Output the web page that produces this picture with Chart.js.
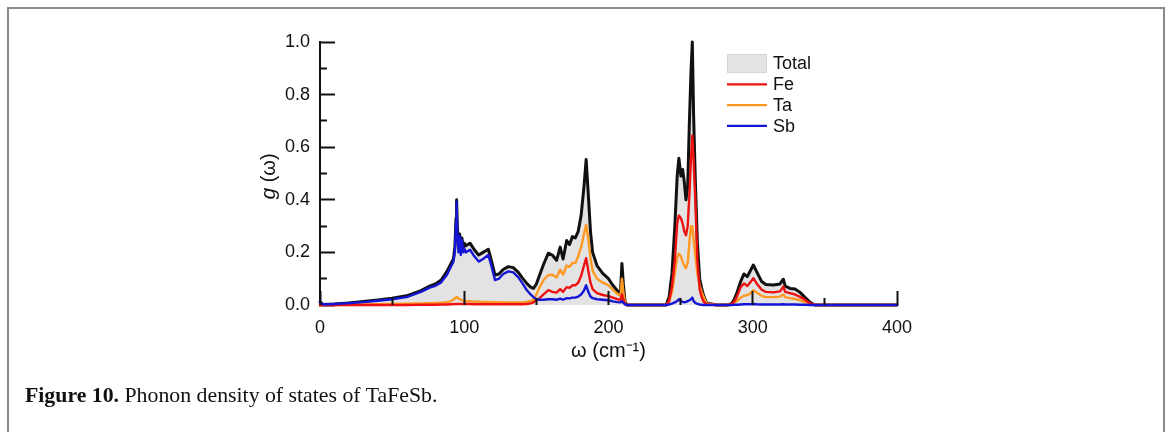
<!DOCTYPE html>
<html>
<head>
<meta charset="utf-8">
<script src="https://cdn.jsdelivr.net/npm/chart.js@4.4.0/dist/chart.umd.min.js"></script>
<style>
  html, body { margin: 0; padding: 0; background: #fff; }
  #wrap { position: relative; width: 1168px; height: 432px; overflow: hidden; }
  #frame { position: absolute; left: 7px; top: 7px; width: 1158px; height: 460px;
           border: 2px solid #8a8a8a; border-bottom: none; box-sizing: border-box; }
  #chart { position: absolute; left: 0; top: 0; }
  #caption { position: absolute; left: 25px; top: 384px; line-height: 22px;
             font-family: "Liberation Serif", "DejaVu Serif", serif; font-size: 21.8px; color: #111; white-space: nowrap; }
</style>
</head>
<body>
<div id="wrap">
  <div id="frame"></div>
  <canvas id="chart" width="1168" height="432"></canvas>
  <div id="caption"><b>Figure 10.</b> Phonon density of states of TaFeSb.</div>
</div>
<script>
// phonon frequency, cm^-1 (shared by all series)
const omega = [
  0, 2, 10, 20, 30, 40, 50, 60, 70, 76,
  80, 84, 88, 91, 92.5, 93.5, 94.3, 94.7, 95.2, 96,
  96.8, 97.6, 98.4, 99.2, 100, 101, 104, 107, 110, 113,
  116.7, 119, 121.3, 124, 127, 130.6, 134, 137.5, 140, 143.3,
  146, 148, 150, 152, 155, 158.3, 161, 164, 166.5, 168.5,
  171, 173, 175, 177, 179, 181, 183, 184.5, 186, 187.5,
  189, 192, 196, 200, 203, 206, 208.3, 209.3, 210.3, 211.5,
  213, 240, 242, 244, 246, 247.6, 248.8, 250.2, 251.4, 252.5,
  253.7, 254.9, 256.1, 257.2, 258.1, 259, 260.2, 261.6, 263.2, 264.6,
  266, 268, 275, 283, 285.4, 287, 288.9, 291.6, 293.9, 296.2,
  298.6, 300.4, 302.7, 306.2, 309, 314.3, 318.9, 321.2, 322.5, 325.8,
  329.3, 332.8, 336.2, 339.7, 343, 400
];
const total = [
  .012, .002, .004, .008, .013, .019, .026, .035, .055, .072,
  .08, .095, .128, .16, .175, .22, .33, .4, .3, .23,
  .27, .22, .255, .22, .235, .225, .235, .21, .19, .2,
  .212, .165, .114, .118, .135, .146, .142, .124, .105, .082,
  .068, .063, .08, .11, .155, .197, .19, .17, .22, .175,
  .245, .23, .26, .255, .28, .34, .45, .553, .42, .28,
  .2, .15, .12, .1, .075, .055, .045, .158, .08, .01,
  0, 0, .03, .12, .3, .49, .558, .49, .515, .47,
  .4, .45, .7, .89, 1.0, .72, .47, .24, .1, .063,
  .035, .008, 0, 0, .006, .02, .044, .089, .118, .108,
  .133, .152, .127, .089, .078, .076, .08, .098, .072, .063,
  .061, .048, .029, .01, 0, 0
];
const fe = [
  0, 0, 0, 0, 0, 0, 0, 0, .001, .001,
  .001, .002, .002, .003, .003, .004, .004, .004, .004, .004,
  .004, .004, .004, .004, .004, .004, .004, .003, .003, .003,
  .003, .003, .003, .003, .003, .003, .003, .003, .003, .004,
  .006, .01, .018, .025, .04, .057, .05, .047, .06, .05,
  .068, .065, .075, .075, .085, .11, .15, .178, .13, .085,
  .06, .045, .038, .034, .028, .022, .02, .04, .02, .004,
  0, 0, .015, .07, .17, .31, .34, .33, .31, .28,
  .265, .3, .42, .56, .645, .55, .4, .17, .06, .03,
  .012, .002, 0, 0, .004, .012, .03, .068, .082, .072,
  .088, .102, .082, .058, .05, .048, .052, .07, .05, .045,
  .04, .031, .02, .006, 0, 0
];
const ta = [
  0, 0, 0, .001, .002, .003, .004, .005, .006, .007,
  .008, .009, .011, .015, .02, .025, .029, .03, .029, .025,
  .022, .02, .018, .017, .016, .015, .014, .013, .013, .012,
  .012, .011, .011, .011, .01, .01, .01, .01, .01, .012,
  .016, .02, .04, .065, .095, .114, .115, .105, .135, .115,
  .15, .145, .16, .16, .185, .22, .27, .305, .25, .18,
  .13, .1, .085, .075, .058, .042, .035, .1, .05, .006,
  0, 0, .012, .05, .12, .18, .195, .185, .165, .15,
  .14, .16, .24, .3, .3, .25, .19, .12, .075, .05,
  .03, .006, 0, 0, .002, .007, .015, .028, .035, .038,
  .045, .057, .047, .035, .03, .03, .032, .04, .03, .026,
  .023, .018, .011, .004, 0, 0
];
const sb = [
  .012, .002, .004, .007, .011, .016, .022, .03, .05, .066,
  .073, .086, .115, .148, .165, .205, .31, .393, .28, .2,
  .262, .19, .248, .2, .215, .2, .21, .185, .165, .175,
  .19, .145, .095, .1, .118, .128, .124, .105, .085, .057,
  .04, .03, .022, .02, .02, .022, .022, .02, .024, .02,
  .026, .025, .028, .028, .032, .04, .055, .075, .05, .032,
  .026, .022, .02, .018, .014, .011, .01, .015, .008, .002,
  0, 0, .002, .005, .01, .015, .022, .015, .012, .01,
  .012, .015, .018, .022, .028, .015, .008, .004, .002, .001,
  0, 0, 0, 0, 0, .001, .001, .002, .003, .003,
  .003, .004, .003, .002, .002, .002, .002, .003, .002, .002,
  .002, .001, .001, 0, 0, 0
];
const xMajor = [0, 100, 200, 300, 400];
const xMinor = [50, 150, 250, 350];
const yMajor = [0, 0.2, 0.4, 0.6, 0.8, 1.0];
const yMinor = [0.1, 0.3, 0.5, 0.7, 0.9];

const SANS = '"Liberation Sans", Arial, sans-serif';
Chart.defaults.font.family = SANS;
Chart.defaults.color = '#111';

const pts = (ys) => omega.map((w, i) => ({ x: w, y: ys[i] }));
const fixTicks = (vals) => (scale) => { scale.ticks = vals.map(v => ({ value: v })); };

// legend drawn inside the plot, top right, like the figure
const insetLegend = {
  id: 'insetLegend',
  afterDatasetsDraw(chart) {
    const { ctx } = chart;
    const left = 727, top = 54, rowH = 20.8, sw = 40;
    ctx.save();
    ctx.font = '18px ' + SANS;
    ctx.textBaseline = 'middle';
    chart.data.datasets.forEach((ds, i) => {
      const cy = top + 9.5 + i * rowH;
      if (ds.fill) {
        ctx.fillStyle = '#e4e4e4';
        ctx.fillRect(left, cy - 9.5, sw, 19);
        ctx.strokeStyle = '#d6d6d6';
        ctx.lineWidth = 1;
        ctx.strokeRect(left + 0.5, cy - 9, sw - 1, 18);
      } else {
        ctx.strokeStyle = ds.borderColor;
        ctx.lineWidth = 2.2;
        ctx.beginPath();
        ctx.moveTo(left, cy);
        ctx.lineTo(left + sw, cy);
        ctx.stroke();
      }
      ctx.fillStyle = '#111';
      ctx.fillText(ds.label, left + sw + 6, cy + 1);
    });
    ctx.restore();
  }
};

// y title with italic g
const yTitle = {
  id: 'yTitle',
  afterDraw(chart) {
    const { ctx, chartArea } = chart;
    ctx.save();
    ctx.translate(chartArea.left - 51, (chartArea.top + chartArea.bottom) / 2 + 3);
    ctx.rotate(-Math.PI / 2);
    ctx.textBaseline = 'middle';
    ctx.fillStyle = '#111';
    const it = 'italic 21px ' + SANS, up = '20px ' + SANS;
    ctx.font = it;
    const wa = ctx.measureText('g').width;
    ctx.font = up;
    const wb = ctx.measureText(' (ω)').width;
    const x0 = -(wa + wb) / 2;
    ctx.font = it;
    ctx.fillText('g', x0, 0);
    ctx.font = up;
    ctx.fillText(' (ω)', x0 + wa, 0);
    ctx.restore();
  }
};

const tickFont = { family: SANS, size: 18 };

new Chart(document.getElementById('chart'), {
  type: 'line',
  data: {
    datasets: [
      { label: 'Total', data: pts(total), borderColor: '#111', borderWidth: 3,
        backgroundColor: 'rgba(222,222,222,0.85)', fill: 'origin', order: 3 },
      { label: 'Fe', data: pts(fe), borderColor: '#ee1111', borderWidth: 2.4, fill: false, order: 1 },
      { label: 'Ta', data: pts(ta), borderColor: '#ff9922', borderWidth: 2.4, fill: false, order: 2 },
      { label: 'Sb', data: pts(sb), borderColor: '#1515d6', borderWidth: 2.4, fill: false, order: 0 },
    ]
  },
  options: {
    responsive: false,
    animation: false,
    layout: { padding: { left: 260, right: 271, top: 42, bottom: 67 } },
    datasets: { line: { pointRadius: 0, tension: 0, clip: false, borderJoinStyle: 'round',
                        borderCapStyle: 'round', xAxisID: 'x', yAxisID: 'y' } },
    scales: {
      x: {
        type: 'linear', axis: 'x', position: 'bottom', min: 0, max: 400, weight: 1,
        afterBuildTicks: fixTicks(xMajor),
        afterFit: (s) => { s.height = 60; },
        grid: { drawOnChartArea: false, tickLength: -14, tickWidth: 2, tickColor: '#111', z: 1 },
        border: { display: false },
        ticks: { padding: 26, font: tickFont, maxRotation: 0, callback: (v) => String(v) },
        title: { display: true, text: 'ω (cm⁻¹)', font: { family: SANS, size: 20 }, padding: { top: 0, bottom: 2 } }
      },
      xMinor: {
        type: 'linear', axis: 'x', position: 'bottom', min: 0, max: 400, weight: 0,
        afterBuildTicks: fixTicks(xMinor),
        afterFit: (s) => { s.height = 0; },
        grid: { drawOnChartArea: false, tickLength: -7, tickWidth: 2, tickColor: '#111', z: 1 },
        border: { display: false },
        ticks: { display: false }
      },
      y: {
        type: 'linear', axis: 'y', position: 'left', min: 0, max: 1, weight: 1,
        afterBuildTicks: fixTicks(yMajor),
        afterFit: (s) => { s.width = 60; },
        grid: { drawOnChartArea: false, tickLength: -15, tickWidth: 2, tickColor: '#111' },
        border: { color: '#111', width: 2 },
        ticks: { padding: 25, font: tickFont, callback: (v) => v.toFixed(1) }
      },
      yMinor: {
        type: 'linear', axis: 'y', position: 'left', min: 0, max: 1, weight: 0,
        afterBuildTicks: fixTicks(yMinor),
        afterFit: (s) => { s.width = 0; },
        grid: { drawOnChartArea: false, tickLength: -7, tickWidth: 2, tickColor: '#111' },
        border: { display: false },
        ticks: { display: false }
      }
    },
    plugins: {
      legend: { display: false },
      tooltip: { enabled: false }
    }
  },
  plugins: [insetLegend, yTitle]
});
</script>
</body>
</html>
